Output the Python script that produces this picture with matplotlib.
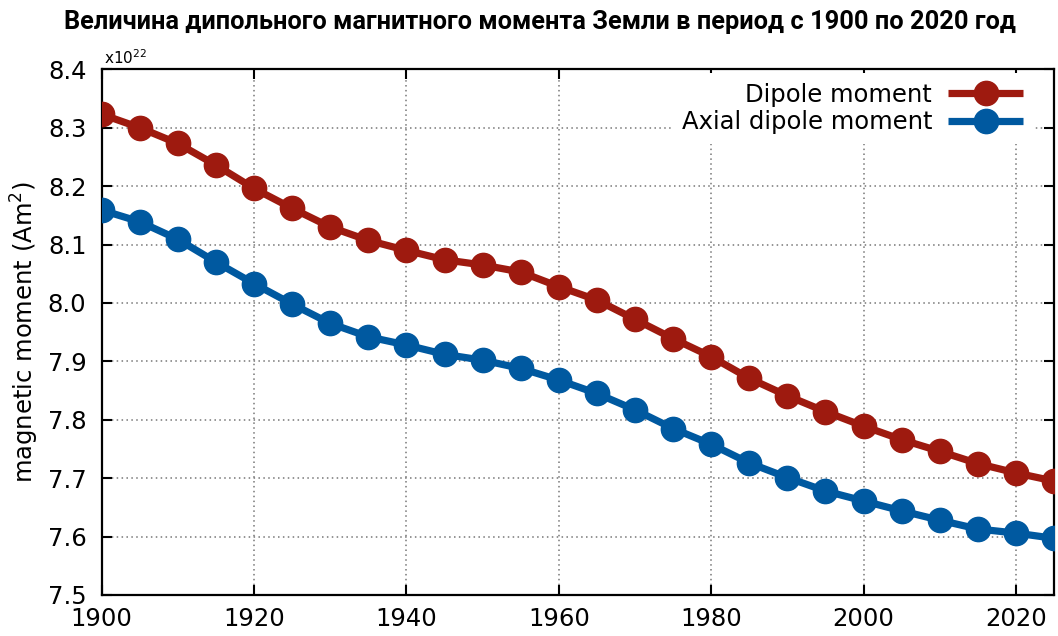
import matplotlib
matplotlib.use("Agg")
import matplotlib.pyplot as plt

years = list(range(1900, 2030, 5))
dipole_moment = [8.323, 8.300, 8.273, 8.236, 8.196, 8.162, 8.130, 8.107, 8.090, 8.074,
                 8.065, 8.053, 8.028, 8.005, 7.972, 7.939, 7.908, 7.871, 7.841, 7.814,
                 7.789, 7.766, 7.746, 7.725, 7.709, 7.695]
axial_dipole_moment = [8.159, 8.139, 8.109, 8.070, 8.033, 7.998, 7.965, 7.942, 7.928, 7.912,
                       7.902, 7.888, 7.868, 7.845, 7.817, 7.785, 7.758, 7.726, 7.701, 7.678,
                       7.661, 7.644, 7.628, 7.613, 7.606, 7.597]
x_ticks = [1900, 1920, 1940, 1960, 1980, 2000, 2020]
y_ticks = [7.5, 7.6, 7.7, 7.8, 7.9, 8.0, 8.1, 8.2, 8.3, 8.4]

title = "Величина дипольного магнитного момента Земли в период с 1900 по 2020 год"

RED = "#9e1a0f"
BLUE = "#0059a0"
FS = 17.5

plt.rcParams['font.family'] = ['DejaVu Sans']

fig = plt.figure(figsize=(10.58, 6.36), dpi=100)
ax = fig.add_axes([0.0961, 0.0645, 0.9001, 0.8265])

ax.plot(years, dipole_moment, color=RED, lw=5.2, marker='o', ms=17.5,
        label="Dipole moment", zorder=3, solid_capstyle='butt')
ax.plot(years, axial_dipole_moment, color=BLUE, lw=5.2, marker='o', ms=17.5,
        label="Axial dipole moment", zorder=3, solid_capstyle='butt')

ax.set_xlim(1900, 2025)
ax.set_ylim(7.5, 8.4)
ax.set_xticks(x_ticks)
ax.set_yticks(y_ticks)
ax.set_yticklabels([f"{v:.1f}" for v in y_ticks])
ax.tick_params(direction='in', length=7.5, width=1.5, labelsize=FS,
               top=True, right=True)
ax.tick_params(axis='y', pad=11)
ax.tick_params(axis='x', pad=9)
for s in ax.spines.values():
    s.set_linewidth(1.6)
    s.set_color('black')

ax.grid(True, linestyle=(0, (1, 2.2)), color='#777777', linewidth=1.1, zorder=0)
ax.set_axisbelow(True)

ax.set_ylabel("magnetic moment (Am$^2$)", fontsize=FS, labelpad=5)
ax.text(0.002, 1.004, r"x10$^{22}$", transform=ax.transAxes, fontsize=11,
        ha='left', va='bottom')

leg = ax.legend(loc='upper right', bbox_to_anchor=(0.978, 0.993),
                markerfirst=False, fontsize=FS,
                frameon=True, facecolor='white', edgecolor='none', framealpha=1,
                handlelength=3.1, handletextpad=0.65, labelspacing=0.15,
                borderaxespad=0.0, borderpad=0.4, fancybox=False)
leg.set_zorder(5)

# Title: scale the font so the line spans the chart width
t = fig.text(0.5104, 0.965, title, ha='center', va='center', fontsize=15,
             fontweight='bold', family=['Roboto', 'DejaVu Sans'])
fig.canvas.draw()
w = t.get_window_extent().width
t.set_fontsize(15 * 956.0 / w)

fig.savefig("out.png", dpi=100)
